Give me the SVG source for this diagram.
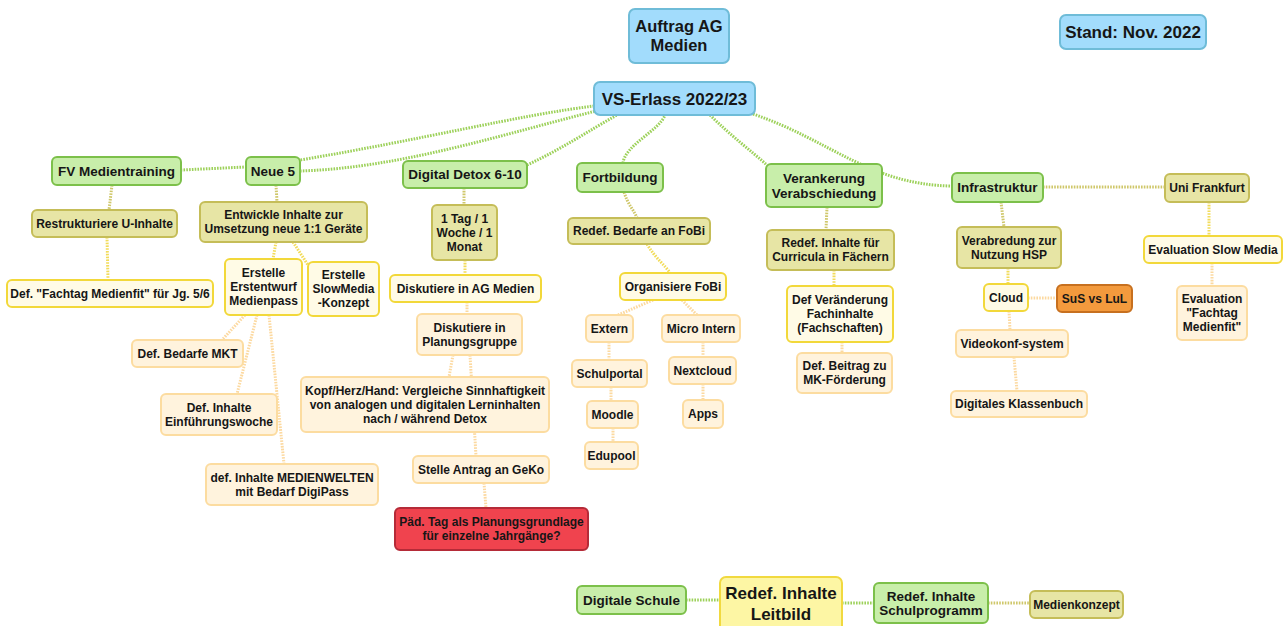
<svg xmlns="http://www.w3.org/2000/svg" width="1285" height="626" viewBox="0 0 1285 626">
<style>
text{font-family:"Liberation Sans",Arial,sans-serif;font-weight:bold;fill:#161616;text-anchor:middle}
.t12{font-size:12px}.t13{font-size:13.5px}.t17{font-size:17px}
rect{stroke-width:2}
.blue{fill:#a2dcfc;stroke:#6fbcd8}
.green{fill:#c8eeaa;stroke:#7cc04a}
.olive{fill:#e7e5a5;stroke:#c5bd58}
.yel{fill:#fffbe6;stroke:#f2d83a}
.lor{fill:#fff3dd;stroke:#fcdca0}
.red{fill:#f0434e;stroke:#b52b38}
.ora{fill:#f39a3d;stroke:#c7701f}
.lb{fill:#fdf6a4;stroke:#f1d93f}
#connectors path{fill:none;stroke-width:3;stroke-dasharray:1.6 1.2}
.cg{stroke:#9dd15a}.co{stroke:#cfc76a}.cy{stroke:#f2dc5a}.cr{stroke:#fcd9a0}
</style>
<rect width="1285" height="626" fill="#ffffff" style="stroke:none"/>
<g id="connectors">
<path class="cg" d="M594,106 C520,115 420,140 300,160 L246,167 L181,170"/>
<path class="cg" d="M300,171 C400,168 500,135 596,111"/>
<path class="cg" d="M527,165 C560,150 590,130 617,115"/>
<path class="cg" d="M623,163 C625,145 660,130 665,115"/>
<path class="cg" d="M710,115 C730,135 750,150 767,165"/>
<path class="cg" d="M753,114 C830,140 870,185 952,186"/>
<path class="cg" d="M686,600 L720,600"/>
<path class="cg" d="M842,603 L874,603"/>
<path class="co" d="M988,603 L1030,603"/>
<path class="co" d="M112,185 L109,210"/>
<path class="co" d="M276,185 L277,202"/>
<path class="co" d="M464,188 L464,205"/>
<path class="co" d="M624,192 C628,205 634,210 637,218"/>
<path class="co" d="M827,207 L826,230"/>
<path class="co" d="M1001,202 L1004,227"/>
<path class="co" d="M1043,187 L1165,187"/>
<path class="cy" d="M107,237 L108,280"/>
<path class="cy" d="M276,242 L273,259"/>
<path class="cy" d="M293,242 L308,265"/>
<path class="cy" d="M465,260 L465,275"/>
<path class="cy" d="M647,244 C655,258 665,265 670,273"/>
<path class="cy" d="M834,270 L834,286"/>
<path class="cy" d="M1008,268 L1008,284"/>
<path class="cy" d="M1209,202 L1209,236"/>
<path class="cr" d="M245,315 L222,340"/>
<path class="cr" d="M257,315 L237,394"/>
<path class="cr" d="M269,315 L284,464"/>
<path class="cr" d="M467,302 L467,314"/>
<path class="cr" d="M453,355 L449,377"/>
<path class="cr" d="M470,355 L476,456"/>
<path class="cr" d="M484,483 L486,508"/>
<path class="cr" d="M653,300 L618,315"/>
<path class="cr" d="M682,300 L697,315"/>
<path class="cr" d="M609,342 L609,360"/>
<path class="cr" d="M611,387 L611,401"/>
<path class="cr" d="M613,428 L613,442"/>
<path class="cr" d="M703,342 L703,357"/>
<path class="cr" d="M703,384 L703,400"/>
<path class="cr" d="M842,342 L842,353"/>
<path class="cr" d="M1028,298 L1057,298"/>
<path class="cr" d="M1009,311 L1010,330"/>
<path class="cr" d="M1014,357 L1017,391"/>
<path class="cr" d="M1212,263 L1212,286"/>
</g>
<g id="auftrag"><rect class="blue" x="629" y="9" width="100" height="54" rx="6"/><text style="font-size:16.5px" x="679" y="32.4">Auftrag AG</text><text style="font-size:16.5px" x="679" y="51.4">Medien</text></g>
<g id="vs-erlass"><rect class="blue" x="594" y="82" width="161" height="33" rx="6"/><text class="t17" x="674.5" y="104.5">VS-Erlass 2022/23</text></g>
<g id="stand"><rect class="blue" x="1060" y="15" width="146" height="34" rx="6"/><text class="t17" x="1133" y="38">Stand: Nov. 2022</text></g>
<g id="fv"><rect class="green" x="52" y="157" width="129" height="28" rx="5"/><text class="t13" x="116.5" y="175.8">FV Medientraining</text></g>
<g id="neue5"><rect class="green" x="246" y="157" width="54" height="28" rx="5"/><text class="t13" x="273" y="175.8">Neue 5</text></g>
<g id="detox"><rect class="green" x="403" y="161" width="124" height="27" rx="5"/><text class="t13" x="465" y="179.3">Digital Detox 6-10</text></g>
<g id="fortbildung"><rect class="green" x="577" y="163" width="86" height="29" rx="5"/><text class="t13" x="620" y="182.3">Fortbildung</text></g>
<g id="verankerung"><rect class="green" x="766" y="164" width="116" height="43" rx="5"/><text class="t13" x="824" y="183.1">Verankerung</text><text class="t13" x="824" y="197.5">Verabschiedung</text></g>
<g id="infrastruktur"><rect class="green" x="952" y="173" width="91" height="29" rx="5"/><text class="t13" x="997.5" y="192.3">Infrastruktur</text></g>
<g id="digitale-schule"><rect class="green" x="577" y="586" width="109" height="28" rx="5"/><text class="t13" x="631.5" y="604.8">Digitale Schule</text></g>
<g id="schulprogramm"><rect class="green" x="874" y="583" width="114" height="40" rx="5"/><text class="t13" x="931" y="600.8">Redef. Inhalte</text><text class="t13" x="931" y="614.8">Schulprogramm</text></g>
<g id="restrukturiere"><rect class="olive" x="32" y="210" width="145" height="27" rx="5"/><text class="t12" x="104.5" y="227.8">Restrukturiere U-Inhalte</text></g>
<g id="entwickle"><rect class="olive" x="200" y="202" width="167" height="40" rx="5"/><text class="t12" x="283.5" y="219.3">Entwickle Inhalte zur</text><text class="t12" x="283.5" y="233.3">Umsetzung neue 1:1 Geräte</text></g>
<g id="tag"><rect class="olive" x="432" y="205" width="65" height="55" rx="5"/><text class="t12" x="464.5" y="222.8">1 Tag / 1</text><text class="t12" x="464.5" y="236.8">Woche / 1</text><text class="t12" x="464.5" y="250.8">Monat</text></g>
<g id="bedarfe-fobi"><rect class="olive" x="568" y="218" width="142" height="26" rx="5"/><text class="t12" x="639" y="235.3">Redef. Bedarfe an FoBi</text></g>
<g id="curricula"><rect class="olive" x="767" y="230" width="127" height="40" rx="5"/><text class="t12" x="830.5" y="247.3">Redef. Inhalte für</text><text class="t12" x="830.5" y="261.3">Curricula in Fächern</text></g>
<g id="verabredung"><rect class="olive" x="957" y="227" width="104" height="41" rx="5"/><text class="t12" x="1009" y="244.8">Verabredung zur</text><text class="t12" x="1009" y="258.8">Nutzung HSP</text></g>
<g id="uni"><rect class="olive" x="1165" y="174" width="84" height="28" rx="5"/><text class="t12" x="1207" y="192.3">Uni Frankfurt</text></g>
<g id="medienkonzept"><rect class="olive" x="1030" y="591" width="93" height="27" rx="5"/><text class="t12" x="1076.5" y="608.8">Medienkonzept</text></g>
<g id="fachtag"><rect class="yel" x="7" y="280" width="206" height="27" rx="5"/><text class="t12" x="110" y="297.8">Def. "Fachtag Medienfit" für Jg. 5/6</text></g>
<g id="medienpass"><rect class="yel" x="225" y="259" width="77" height="56" rx="5"/><text class="t12" x="263.5" y="277.3">Erstelle</text><text class="t12" x="263.5" y="291.3">Erstentwurf</text><text class="t12" x="263.5" y="305.3">Medienpass</text></g>
<g id="slowmedia"><rect class="yel" x="308" y="262" width="71" height="54" rx="5"/><text class="t12" x="343.5" y="279.3">Erstelle</text><text class="t12" x="343.5" y="293.3">SlowMedia</text><text class="t12" x="343.5" y="307.3">-Konzept</text></g>
<g id="diskutiere-ag"><rect class="yel" x="390" y="275" width="151" height="27" rx="5"/><text class="t12" x="465.5" y="292.8">Diskutiere in AG Medien</text></g>
<g id="organisiere"><rect class="yel" x="620" y="273" width="106" height="27" rx="5"/><text class="t12" x="673" y="290.8">Organisiere FoBi</text></g>
<g id="veraenderung"><rect class="yel" x="787" y="286" width="106" height="56" rx="5"/><text class="t12" x="840" y="304.3">Def Veränderung</text><text class="t12" x="840" y="318.3">Fachinhalte</text><text class="t12" x="840" y="332.3">(Fachschaften)</text></g>
<g id="cloud"><rect class="yel" x="984" y="284" width="44" height="27" rx="5"/><text class="t12" x="1006" y="301.8">Cloud</text></g>
<g id="eval-slow"><rect class="yel" x="1144" y="236" width="138" height="27" rx="5"/><text class="t12" x="1213" y="253.8">Evaluation Slow Media</text></g>
<g id="leitbild"><rect class="lb" x="720" y="577" width="122" height="60" rx="6"/><text class="t17" x="781" y="599">Redef. Inhalte</text><text class="t17" x="781" y="620">Leitbild</text></g>
<g id="bedarfe-mkt"><rect class="lor" x="132" y="340" width="111" height="27" rx="5"/><text class="t12" x="187.5" y="357.8">Def. Bedarfe MKT</text></g>
<g id="einfuehrung"><rect class="lor" x="161" y="394" width="116" height="41" rx="5"/><text class="t12" x="219" y="411.8">Def. Inhalte</text><text class="t12" x="219" y="425.8">Einführungswoche</text></g>
<g id="medienwelten"><rect class="lor" x="206" y="464" width="172" height="41" rx="5"/><text class="t12" x="292" y="481.8">def. Inhalte MEDIENWELTEN</text><text class="t12" x="292" y="495.8">mit Bedarf DigiPass</text></g>
<g id="planungsgruppe"><rect class="lor" x="417" y="314" width="105" height="41" rx="5"/><text class="t12" x="469.5" y="331.8">Diskutiere in</text><text class="t12" x="469.5" y="345.8">Planungsgruppe</text></g>
<g id="kopf"><rect class="lor" x="301" y="377" width="248" height="55" rx="5"/><text class="t12" x="425" y="394.8">Kopf/Herz/Hand: Vergleiche Sinnhaftigkeit</text><text class="t12" x="425" y="408.8">von analogen und digitalen Lerninhalten</text><text class="t12" x="425" y="422.8">nach / während Detox</text></g>
<g id="antrag"><rect class="lor" x="413" y="456" width="136" height="27" rx="5"/><text class="t12" x="481" y="473.8">Stelle Antrag an GeKo</text></g>
<g id="paed-tag"><rect class="red" x="395" y="508" width="193" height="42" rx="5"/><text class="t12" x="491.5" y="526.3">Päd. Tag als Planungsgrundlage</text><text class="t12" x="491.5" y="540.3">für einzelne Jahrgänge?</text></g>
<g id="extern"><rect class="lor" x="586" y="315" width="47" height="27" rx="5"/><text class="t12" x="609.5" y="332.8">Extern</text></g>
<g id="micro"><rect class="lor" x="662" y="315" width="78" height="27" rx="5"/><text class="t12" x="701" y="332.8">Micro Intern</text></g>
<g id="schulportal"><rect class="lor" x="572" y="360" width="75" height="27" rx="5"/><text class="t12" x="609.5" y="377.8">Schulportal</text></g>
<g id="nextcloud"><rect class="lor" x="669" y="357" width="67" height="27" rx="5"/><text class="t12" x="702.5" y="374.8">Nextcloud</text></g>
<g id="moodle"><rect class="lor" x="587" y="401" width="51" height="27" rx="5"/><text class="t12" x="612.5" y="418.8">Moodle</text></g>
<g id="apps"><rect class="lor" x="683" y="400" width="40" height="28" rx="5"/><text class="t12" x="703" y="418.3">Apps</text></g>
<g id="edupool"><rect class="lor" x="585" y="442" width="53" height="27" rx="5"/><text class="t12" x="611.5" y="459.8">Edupool</text></g>
<g id="beitrag"><rect class="lor" x="797" y="353" width="95" height="40" rx="5"/><text class="t12" x="844.5" y="370.3">Def. Beitrag zu</text><text class="t12" x="844.5" y="384.3">MK-Förderung</text></g>
<g id="sus"><rect class="ora" x="1057" y="285" width="75" height="27" rx="5"/><text class="t12" x="1094.5" y="302.8">SuS vs LuL</text></g>
<g id="videokonf"><rect class="lor" x="956" y="330" width="112" height="27" rx="5"/><text class="t12" x="1012" y="347.8">Videokonf-system</text></g>
<g id="klassenbuch"><rect class="lor" x="951" y="391" width="136" height="26" rx="5"/><text class="t12" x="1019" y="408.3">Digitales Klassenbuch</text></g>
<g id="eval-fachtag"><rect class="lor" x="1177" y="286" width="70" height="54" rx="5"/><text class="t12" x="1212" y="303.3">Evaluation</text><text class="t12" x="1212" y="317.3">"Fachtag</text><text class="t12" x="1212" y="331.3">Medienfit"</text></g>
</svg>
